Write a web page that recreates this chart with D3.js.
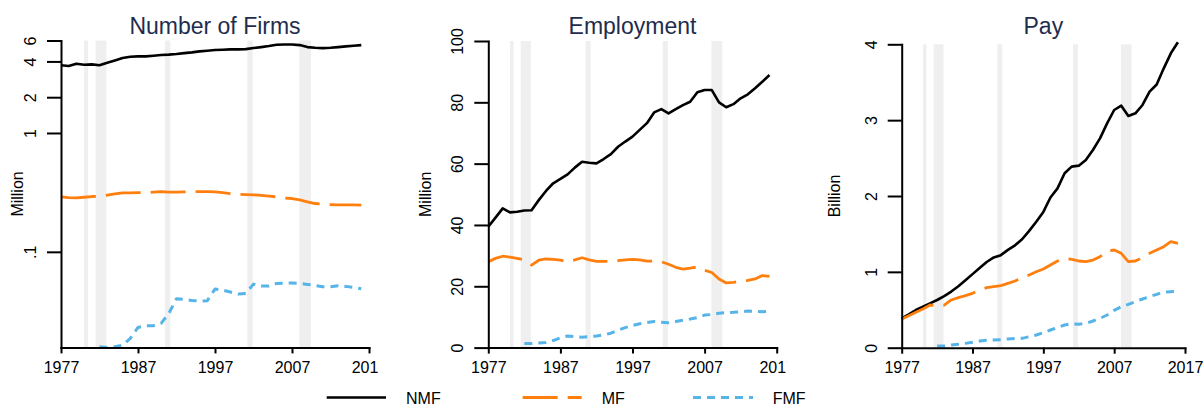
<!DOCTYPE html>
<html><head><meta charset="utf-8">
<script src="https://cdn.jsdelivr.net/npm/d3@7"></script>
<style>
body{margin:0;background:#fff}
svg{display:block}
text{font-family:Arial,"Liberation Sans",sans-serif}
</style>
</head><body>
<svg id="chart" width="1204" height="405"></svg>
<script>
// ---------------- DATA ----------------
const years = [1977,1978,1979,1980,1981,1982,1983,1984,1985,1986,
               1987,1988,1989,1990,1991,1992,1993,1994,1995,1996,
               1997,1998,1999,2000,2001,2002,2003,2004,2005,2006,
               2007,2008,2009,2010,2011,2012,2013,2014,2015,2016];

// Number of firms (million), log scale
const firmsNMF = [3.71,3.66,3.83,3.75,3.78,3.71,3.90,4.08,4.27,4.38,
                  4.41,4.41,4.47,4.53,4.56,4.62,4.70,4.77,4.86,4.92,
                  4.99,5.02,5.05,5.05,5.08,5.18,5.28,5.39,5.53,5.56,
                  5.56,5.49,5.28,5.22,5.18,5.22,5.28,5.35,5.42,5.49];
const firmsMF  = [0.290,0.286,0.284,0.288,0.292,0.294,0.300,0.307,0.313,0.313,
                  0.315,0.315,0.318,0.3215,0.318,0.318,0.3195,0.3215,0.3215,0.3215,
                  0.3195,0.315,0.309,0.305,0.303,0.3015,0.298,0.294,0.290,0.284,
                  0.281,0.2736,0.2633,0.255,0.252,0.250,0.2485,0.2485,0.2485,0.247];
const firmsFMF = [null,null,null,null,null,
                  0.0159,0.0157,0.0159,0.0164,0.0187,0.0231,0.0239,0.0239,0.0250,0.0303,
                  0.0403,0.0398,0.0390,0.0385,0.0388,0.0486,0.0477,0.0459,0.0441,0.0447,
                  0.0535,0.0515,0.0515,0.0542,0.0546,0.0546,0.0542,0.0532,0.0522,0.0508,
                  0.0508,0.0518,0.0512,0.0502,0.0489];

// Employment (million)
const empNMF = [39.4,42.4,45.4,44.1,44.3,44.7,44.8,48.1,51.1,53.6,
                55.0,56.5,58.7,60.6,60.3,60.1,61.5,63.1,65.5,67.2,
                68.8,71.0,73.2,76.7,77.8,76.4,77.8,79.1,80.2,83.3,
                84.0,84.0,80.0,78.4,79.4,81.3,82.6,84.6,86.7,88.9];
const empMF  = [28.0,29.1,29.8,29.5,29.1,28.6,26.9,28.5,28.9,28.8,
                28.5,28.0,28.6,29.3,28.6,28.1,28.1,28.2,28.35,28.6,
                28.8,28.6,28.2,28.2,28.0,27.2,26.2,25.6,25.9,26.3,
                25.2,24.5,22.4,21.1,21.3,21.7,21.9,22.4,23.5,23.2];
const empFMF = [null,null,null,null,null,
                1.3,1.3,1.5,1.7,2.3,3.2,3.8,3.6,3.4,3.6,
                3.8,4.1,4.7,5.7,6.5,7.2,7.8,8.2,8.5,8.3,
                8.1,8.5,8.9,9.3,9.8,10.6,10.8,11.2,11.4,11.5,
                11.7,11.9,11.8,11.7,11.8];

// Pay (billion)
const payNMF = [0.387,0.44,0.497,0.541,0.585,0.629,0.68,0.74,0.81,0.89,
                0.97,1.05,1.13,1.19,1.22,1.29,1.35,1.43,1.54,1.66,
                1.79,1.98,2.10,2.30,2.387,2.40,2.475,2.606,2.76,2.958,
                3.134,3.191,3.055,3.09,3.20,3.375,3.47,3.683,3.881,4.026];
const payMF  = [0.378,0.422,0.466,0.51,0.563,0.554,0.56,0.629,0.66,0.686,
                0.717,0.761,0.791,0.805,0.818,0.849,0.879,0.923,0.958,1.002,
                1.037,1.09,1.143,1.178,1.165,1.143,1.134,1.156,1.20,1.275,
                1.288,1.244,1.134,1.143,1.187,1.244,1.288,1.332,1.398,1.376];
const payFMF = [null,null,null,null,null,
                0.022,0.022,0.036,0.044,0.057,0.071,0.088,0.097,0.101,0.106,
                0.115,0.123,0.123,0.145,0.167,0.198,0.233,0.268,0.299,0.317,
                0.308,0.321,0.352,0.387,0.431,0.493,0.541,0.572,0.607,0.642,
                0.673,0.704,0.730,0.739,0.748];

// Recessions (decimal years)
const recessionStart = [1980.0, 1981.5, 1990.5, 2001.2, 2007.95];
const recessionEnd   = [1980.5, 1982.9, 1991.2, 2001.9, 2009.45];

// Ticks / labels
const xTicks = [1977,1987,1997,2007,2017];
const firmTicks = [0.1,1,2,4,6];
const firmTickLabels = [".1","1","2","4","6"];
const empTicks = [0,20,40,60,80,100];
const payTicks = [0,1,2,3,4];
const seriesNames = ["NMF","MF","FMF"];
const titles = ["Number of Firms","Employment","Pay"];
const unitLabels = ["Million","Million","Billion"];

// ---------------- STYLE / LAYOUT ----------------
const seriesStyle = {
  NMF:{color:"#000000", dash:null,    width:2.6},
  MF: {color:"#ff7f0e", dash:"35,10", width:2.8},
  FMF:{color:"#56b4e9", dash:"8,6",   width:3}
};
const panels = [
  {title:titles[0], unit:unitLabels[0], x0:61,    x1:369,   yTop:40.5, yBot:347.4, unitX:22.5,
   scale:"log", domain:[0.0157,6], ticks:firmTicks, tickLabels:firmTickLabels,
   series:[firmsNMF,firmsMF,firmsFMF], clip:[0,379]},
  {title:titles[1], unit:unitLabels[1], x0:488.3, x1:776.7, yTop:41,   yBot:347.6, unitX:430.5,
   scale:"linear", domain:[0,100], ticks:empTicks, tickLabels:empTicks.map(String),
   series:[empNMF,empMF,empFMF], clip:[390,786.5]},
  {title:titles[2], unit:unitLabels[2], x0:901.7, x1:1185,  yTop:44.3, yBot:347.7, unitX:839.5,
   scale:"linear", domain:[0,4], ticks:payTicks, tickLabels:payTicks.map(String),
   series:[payNMF,payMF,payFMF], clip:[790,1204]}
];

const svg = d3.select("#chart");
const defs = svg.append("defs");

panels.forEach((p, pi) => {
  defs.append("clipPath").attr("id","clip"+pi)
    .append("rect").attr("x",p.clip[0]).attr("y",0)
    .attr("width",p.clip[1]-p.clip[0]).attr("height",405);

  const g = svg.append("g").attr("clip-path",`url(#clip${pi})`);
  const x = d3.scaleLinear().domain([1977,2017]).range([p.x0,p.x1]);
  const y = (p.scale==="log" ? d3.scaleLog() : d3.scaleLinear())
              .domain(p.domain).range([p.yBot,p.yTop]);

  // recession shading
  g.selectAll("rect.rec").data(recessionStart.map((s,i)=>[s,recessionEnd[i]]))
    .enter().append("rect").attr("class","rec")
    .attr("x",d=>x(d[0])).attr("width",d=>x(d[1])-x(d[0]))
    .attr("y",p.yTop).attr("height",p.yBot-p.yTop)
    .attr("fill","#efefef");

  // lines
  const line = d3.line().defined(d=>d[1]!=null)
    .x(d=>x(d[0])).y(d=>y(d[1])).curve(d3.curveLinear);
  p.series.forEach((vals, si) => {
    const st = seriesStyle[seriesNames[si]];
    g.append("path")
      .datum(years.map((yr,i)=>[yr,vals[i]]))
      .attr("d",line).attr("fill","none")
      .attr("stroke",st.color).attr("stroke-width",st.width)
      .attr("stroke-linejoin","round")
      .attr("stroke-dasharray",st.dash);
  });

  // x axis
  const xa = g.append("g").attr("transform",`translate(0,${p.yBot})`)
    .call(d3.axisBottom(x).tickValues(xTicks).tickFormat(d3.format("d"))
      .tickSize(6).tickSizeOuter(0).tickPadding(8));
  // y axis
  const ya = g.append("g").attr("transform",`translate(${p.x0},0)`)
    .call(d3.axisLeft(y).tickValues(p.ticks)
      .tickFormat((d,i)=>p.tickLabels[i]).tickSize(14).tickSizeOuter(0));
  ya.selectAll(".tick text")
    .attr("x",null).attr("dy",null)
    .attr("text-anchor","middle")
    .attr("transform","translate(-25,0) rotate(-90)");

  [xa,ya].forEach(a=>{
    a.attr("font-family",null).attr("font-size",null);
    a.selectAll("text").style("font-size","16px").attr("fill","#000");
    a.selectAll("line").attr("stroke-width",2).attr("stroke","#000");
    a.select(".domain").attr("stroke-width",2).attr("stroke","#000")
      .attr("stroke-linecap","square");
  });

  // titles
  svg.append("text").attr("x",(p.x0+p.x1)/2).attr("y",33.5)
    .attr("text-anchor","middle").style("font-size","23px")
    .attr("fill","#1f2d4d").text(p.title);
  // unit label
  svg.append("text")
    .attr("transform",`translate(${p.unitX},${(p.yTop+p.yBot)/2}) rotate(-90)`)
    .attr("text-anchor","middle").style("font-size","16px")
    .attr("fill","#000").text(p.unit);
});

// legend
const legendPos = [
  {x1:326.7, x2:386,   tx:406},
  {x1:522.7, x2:581.7, tx:601.7},
  {x1:693,   x2:753,   tx:772.7}
];
const lg = svg.append("g");
seriesNames.forEach((name,i)=>{
  const st = seriesStyle[name], lp = legendPos[i];
  lg.append("line").attr("x1",lp.x1).attr("x2",lp.x2)
    .attr("y1",397.5).attr("y2",397.5)
    .attr("stroke",st.color).attr("stroke-width",st.width)
    .attr("stroke-dasharray",st.dash);
  lg.append("text").attr("x",lp.tx).attr("y",403.5)
    .style("font-size","16px").attr("fill","#000").text(name);
});
</script>
</body></html>
